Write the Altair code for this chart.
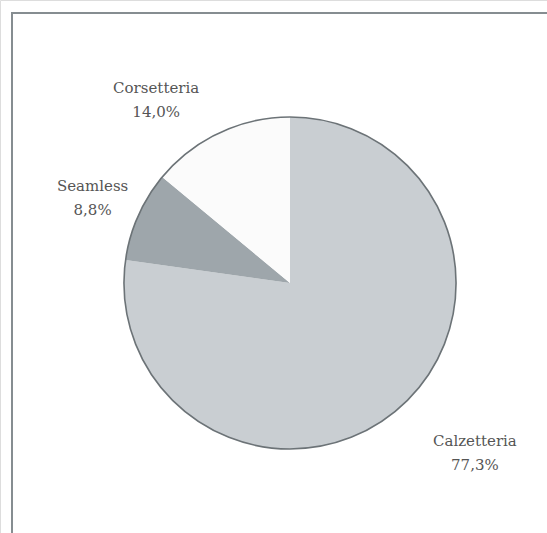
import altair as alt
import pandas as pd

categories = ["Calzetteria", "Seamless", "Corsetteria"]
values = [77.3, 8.8, 14.0]
pct_labels = ["77,3%", "8,8%", "14,0%"]
order = [0, 1, 2]

colors = ["#c9ced2", "#9ea6ab", "#fbfbfb"]
total = sum(values)

df = pd.DataFrame({
    "cat": categories,
    "val": values,
    "pct": pct_labels,
    "ord": order,
})
df["label"] = df["cat"] + "\n" + df["pct"]

CX, CY, R = 290, 283, 166
theta_scale = alt.Scale(domain=[0, total])

arcs = alt.Chart(df).mark_arc(outerRadius=R, strokeWidth=0).encode(
    theta=alt.Theta("val:Q", stack=True, scale=theta_scale),
    order=alt.Order("ord:Q"),
    color=alt.Color("cat:N", scale=alt.Scale(domain=categories, range=colors), legend=None),
    x=alt.value(CX),
    y=alt.value(CY),
)

outline = alt.Chart(pd.DataFrame({"t": [total]})).mark_arc(
    outerRadius=R, fillOpacity=0, stroke="#6c7377", strokeWidth=1.6
).encode(
    theta=alt.Theta("t:Q", stack=True, scale=theta_scale),
    x=alt.value(CX),
    y=alt.value(CY),
)

offsets = {"Calzetteria": (34, -16), "Seamless": (13, -4), "Corsetteria": (-36, 13)}

texts = []
for c in categories:
    dx, dy = offsets[c]
    t = alt.Chart(df).transform_window(
        cum="sum(val)", sort=[alt.SortField("ord")]
    ).transform_calculate(
        mid="datum.cum - datum.val / 2"
    ).transform_filter(
        alt.datum.cat == c
    ).mark_text(
        radius=230, dx=dx, dy=dy, font="DejaVu Serif", fontSize=15,
        color="#555555", lineBreak="\n", lineHeight=24, align="center", baseline="middle"
    ).encode(
        theta=alt.Theta("mid:Q", stack=False, scale=theta_scale),
        text="label:N",
        x=alt.value(CX),
        y=alt.value(CY),
    )
    texts.append(t)

frame_top = alt.Chart(pd.DataFrame({"a": [0]})).mark_rule(color="#868d91", strokeWidth=2).encode(
    x=alt.value(11), x2=alt.value(547), y=alt.value(13)
)
frame_left = alt.Chart(pd.DataFrame({"a": [0]})).mark_rule(color="#868d91", strokeWidth=2).encode(
    x=alt.value(12), y=alt.value(12), y2=alt.value(533)
)

chart = alt.layer(arcs, outline, *texts, frame_top, frame_left).properties(
    width=547, height=533, padding=0, autosize=alt.AutoSizeParams(type="none")
).configure_view(stroke=None).configure(background="white")

chart.save("out.html", embed_options={"renderer": "svg", "actions": False})
